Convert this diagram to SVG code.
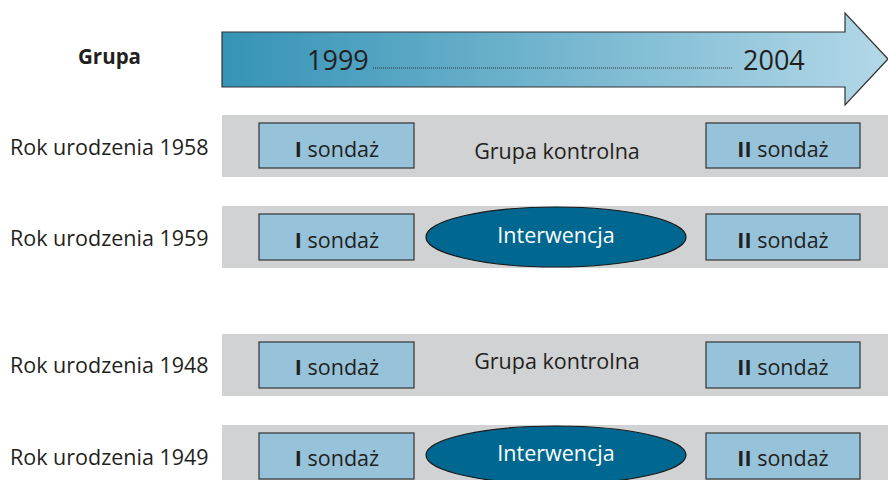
<svg xmlns="http://www.w3.org/2000/svg" width="888" height="480" viewBox="0 0 888 480">
<defs>
<linearGradient id="g" x1="0" y1="0" x2="1" y2="0">
<stop offset="0" stop-color="#3593b6"/>
<stop offset="1" stop-color="#b3d8e8"/>
</linearGradient>
<style>
text{font-family:"Open Sans","Noto Sans",sans-serif;fill:#231f20}
.lbl{font-size:21.5px}
.bx{fill:#96c3da;stroke:#333;stroke-width:1.2}
.band{fill:#d1d2d4}
.el{fill:#006890;stroke:#1a1a1a;stroke-width:1.2}
.bt{font-size:21.5px;text-anchor:middle}
.it{font-size:21.5px;text-anchor:middle;fill:#fff}
.b{font-weight:bold}
</style>
</defs>
<g id="header">
<text x="78" y="64" style="font-size:20.5px;font-weight:bold">Grupa</text>
<path d="M222 32 H845 V13 L888 59 L845 105 V87 H222 Z" fill="url(#g)" stroke="#333" stroke-width="1.2"/>
<text x="307" y="70" style="font-size:27px">1999</text>
<line x1="373" y1="68" x2="733" y2="68" stroke="#333" stroke-width="1" stroke-dasharray="1 1"/>
<text x="743" y="70" style="font-size:27px">2004</text>
</g>
<g id="row1958">
<rect class="band" x="222" y="115" width="666" height="62"/>
<text class="lbl" x="10" y="155">Rok urodzenia 1958</text>
<rect class="bx" x="259" y="123" width="155" height="45"/>
<text class="bt" x="337" y="157"><tspan class="b">I</tspan> sondaż</text>
<text class="bt" x="557" y="159">Grupa kontrolna</text>
<rect class="bx" x="706" y="123" width="154" height="45"/>
<text class="bt" x="783" y="157"><tspan class="b">II</tspan> sondaż</text>
</g>
<g id="row1959">
<rect class="band" x="222" y="206" width="666" height="62"/>
<text class="lbl" x="10" y="246">Rok urodzenia 1959</text>
<rect class="bx" x="259" y="214" width="155" height="46"/>
<text class="bt" x="337" y="248"><tspan class="b">I</tspan> sondaż</text>
<ellipse class="el" cx="556" cy="237" rx="130" ry="30"/>
<text class="it" x="556" y="243">Interwencja</text>
<rect class="bx" x="706" y="214" width="154" height="46"/>
<text class="bt" x="783" y="248"><tspan class="b">II</tspan> sondaż</text>
</g>
<g id="row1948">
<rect class="band" x="222" y="334" width="666" height="62"/>
<text class="lbl" x="10" y="373">Rok urodzenia 1948</text>
<rect class="bx" x="259" y="342" width="155" height="46"/>
<text class="bt" x="337" y="375"><tspan class="b">I</tspan> sondaż</text>
<text class="bt" x="557" y="369">Grupa kontrolna</text>
<rect class="bx" x="706" y="342" width="154" height="46"/>
<text class="bt" x="783" y="375"><tspan class="b">II</tspan> sondaż</text>
</g>
<g id="row1949">
<rect class="band" x="222" y="425" width="666" height="62"/>
<text class="lbl" x="10" y="465">Rok urodzenia 1949</text>
<rect class="bx" x="259" y="433" width="155" height="46"/>
<text class="bt" x="337" y="466"><tspan class="b">I</tspan> sondaż</text>
<ellipse class="el" cx="556" cy="455" rx="130" ry="29"/>
<text class="it" x="556" y="461">Interwencja</text>
<rect class="bx" x="706" y="433" width="154" height="46"/>
<text class="bt" x="783" y="466"><tspan class="b">II</tspan> sondaż</text>
</g>
<g id="connectors"/>
</svg>
